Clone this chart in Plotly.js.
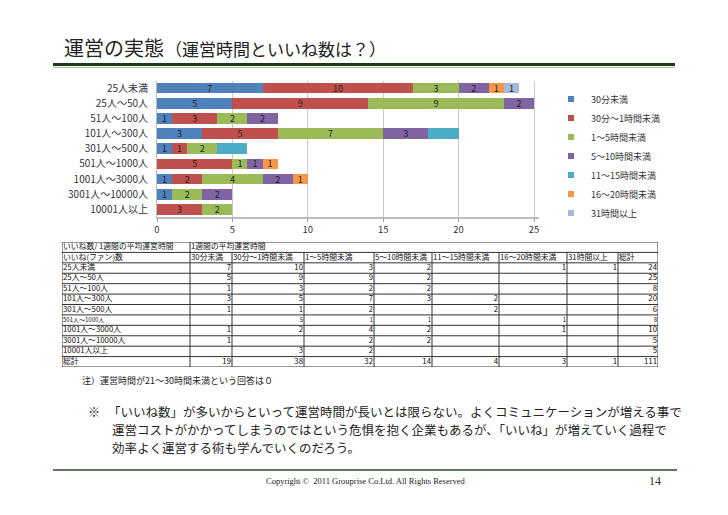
<!DOCTYPE html>
<html><head><meta charset="utf-8">
<script src="https://cdn.plot.ly/plotly-3.0.1.min.js"></script>
<style>html,body{margin:0;padding:0;background:#fff}</style>
</head><body><div id="chart" style="width:728px;height:515px"></div>
<script>
// ---- data ----
const fanGroups = ['25人未満','25人～50人','51人～100人','101人～300人','301人～500人','501人～1000人','1001人～3000人','3001人～10000人','10001人以上'];
const hourBands = ['30分未満','30分～1時間未満','1～5時間未満','5～10時間未満','11～15時間未満','16～20時間未満','31時間以上'];
const under30min = [7,5,1,3,1,null,1,1,null];
const min30to1h  = [10,9,3,5,1,5,2,null,3];
const h1to5      = [3,9,2,7,2,1,4,2,2];
const h5to10     = [2,2,2,3,null,1,2,2,null];
const h11to15    = [null,null,null,2,2,null,null,null,null];
const h16to20    = [1,null,null,null,null,1,1,null,null];
const h31plus    = [1,null,null,null,null,null,null,null,null];
const xTicks = [0,5,10,15,20,25];
const tableCorner = 'いいね数/ 1週間の平均運営時間';
const tableSpan = '1週間の平均運営時間';
const tableRowHead = 'いいね(ファン)数';
const totalLabel = '総計';

const series = [under30min, min30to1h, h1to5, h5to10, h11to15, h16to20, h31plus];
const colors = ['#4F81BD','#C0504D','#9BBB59','#8064A2','#4BACC6','#F79646','#A7B9DA'];

const W = 728, H = 515;
const px = x => x / W, py = y => 1 - y / H;
const JP = '"Noto Sans CJK JP", "Noto Sans", sans-serif';

// ---- stacked bars ----
const traces = series.map((s, i) => ({
  type: 'bar', orientation: 'h', name: hourBands[i], showlegend: false,
  y: fanGroups, x: s,
  marker: {color: colors[i], line: {width: 0}},
  text: s.map(v => (v == null || i === 4) ? '' : String(v)),
  textposition: 'inside', insidetextanchor: 'middle', constraintext: 'none', textangle: 0,
  textfont: {family: JP, size: 9, color: '#222'},
  hoverinfo: 'skip', xaxis: 'x', yaxis: 'y'
}));
// legend entries with small square symbols
series.forEach((s, i) => traces.push({
  type: 'scatter', mode: 'markers', name: hourBands[i], x: [null], y: [null],
  marker: {symbol: 'square', size: 6, color: colors[i]},
  xaxis: 'x', yaxis: 'y', hoverinfo: 'skip'
}));

// ---- table ----
const rowTotals = fanGroups.map((_, r) => series.reduce((a, s) => a + (s[r] || 0), 0));
const colTotals = series.map(s => s.reduce((a, v) => a + (v || 0), 0));
const grand = colTotals.reduce((a, b) => a + b, 0);
const fmt = v => (v == null || v === 0) ? '' : String(v);

const colW = [128,42,72,70,58,67,68,51,40];
const edges = [0]; colW.forEach(w => edges.push(edges[edges.length - 1] + w));
const nRows = 12;
const tFont = 7.8;
const bodyLabels = fanGroups.concat([totalLabel]);
const bodyY = bodyLabels.map((_, r) => r + 2.5);
const bodyFont = bodyLabels.map(g => g === '501人～1000人' ? 6 : tFont);
const numCols = series.map((s, i) => s.map(fmt).concat([fmt(colTotals[i])]));
numCols.push(rowTotals.map(fmt).concat([fmt(grand)]));

const tTxt = (x, y, text, pos, size) => ({
  type: 'scatter', mode: 'text', x, y, text, textposition: pos,
  textfont: {family: JP, size: size, color: '#111'}, cliponaxis: false,
  showlegend: false, hoverinfo: 'skip', xaxis: 'x2', yaxis: 'y2'
});
traces.push(tTxt([edges[0] + 1, edges[1] + 1], [0.5, 0.5], [tableCorner, tableSpan], 'middle right', tFont));
traces.push(tTxt(edges.slice(0, 9).map(e => e + 1), edges.slice(0, 9).map(() => 1.5),
                 [tableRowHead].concat(hourBands, [totalLabel]), 'middle right', tFont));
traces.push(tTxt(bodyY.map(() => edges[0] + 1), bodyY, bodyLabels, 'middle right', bodyFont));
numCols.forEach((col, c) => traces.push(tTxt(bodyY.map(() => edges[c + 2] - 1), bodyY, col, 'middle left', bodyFont)));

const shapes = [
  {type: 'line', xref: 'paper', yref: 'paper', x0: px(53), x1: px(675), y0: py(64.5), y1: py(64.5), line: {color: '#1B3A17', width: 3}},
  {type: 'line', xref: 'paper', yref: 'paper', x0: px(53), x1: px(675), y0: py(67.5), y1: py(67.5), line: {color: '#A9C79B', width: 1}},
  {type: 'line', xref: 'paper', yref: 'paper', x0: px(53), x1: px(677), y0: py(470), y1: py(470), line: {color: '#2E4A2A', width: 1.5}}
];
for (let r = 0; r <= nRows; r++) {
  shapes.push({type: 'line', xref: 'x2', yref: 'y2', x0: 0, x1: edges[edges.length - 1], y0: r, y1: r, line: {color: '#333', width: 1}});
}
edges.forEach((e, k) => {
  const full = (k === 0 || k === 1 || k === edges.length - 1);
  shapes.push({type: 'line', xref: 'x2', yref: 'y2', x0: e, x1: e, y0: full ? 0 : 1, y1: nRows, line: {color: '#333', width: 1}});
});

const layout = {
  width: W, height: H,
  margin: {l: 0, r: 0, t: 0, b: 0},
  paper_bgcolor: '#fff', plot_bgcolor: '#fff',
  barmode: 'stack', bargap: 0.3,
  showlegend: true,
  legend: {x: px(551), y: py(156), xanchor: 'left', yanchor: 'middle',
           traceorder: 'normal', font: {family: JP, size: 9, color: '#333'},
           bgcolor: 'rgba(0,0,0,0)'},
  xaxis: {domain: [px(157), px(157 + 25.3 * 15.08)], range: [0, 25.3],
          tickvals: xTicks, ticktext: xTicks.map(String),
          showgrid: true, gridcolor: '#c8c8c8', gridwidth: 1,
          zeroline: false, showline: true, linecolor: '#bdbdbd', linewidth: 2,
          ticks: 'outside', ticklen: 3, tickcolor: '#999',
          tickfont: {family: JP, size: 9.5, color: '#333'}, fixedrange: true,
          anchor: 'y'},
  yaxis: {domain: [py(217), py(80.5)], range: [8.5, -0.5], type: 'category',
          showline: true, linecolor: '#bdbdbd', linewidth: 1, showgrid: false,
          ticks: '', ticklabelstandoff: 6,
          tickfont: {family: JP, size: 10, color: '#333'}, fixedrange: true,
          anchor: 'x'},
  xaxis2: {domain: [px(62), px(658)], range: [0, edges[edges.length - 1]], visible: false, fixedrange: true, anchor: 'y2'},
  yaxis2: {domain: [py(367), py(242)], range: [nRows, 0], visible: false, fixedrange: true, anchor: 'x2'},
  shapes: shapes,
  annotations: [
    {text: '運営の実態', xref: 'paper', yref: 'paper', x: px(62), y: py(47), xanchor: 'left', yanchor: 'middle', showarrow: false, font: {family: JP, size: 20, color: '#222'}},
    {text: '（運営時間といいね数は？）', xref: 'paper', yref: 'paper', x: px(163), y: py(48), xanchor: 'left', yanchor: 'middle', showarrow: false, font: {family: JP, size: 17, color: '#222'}},
    {text: '注）運営時間が21～30時間未満という回答は０', xref: 'paper', yref: 'paper', x: px(80), y: py(380), xanchor: 'left', yanchor: 'middle', showarrow: false, font: {family: JP, size: 9, color: '#222'}},
    {text: '※', xref: 'paper', yref: 'paper', x: px(86), y: py(411), xanchor: 'left', yanchor: 'middle', showarrow: false, font: {family: JP, size: 12, color: '#222'}},
    {text: '「いいね数」が多いからといって運営時間が長いとは限らない。よくコミュニケーションが増える事で', xref: 'paper', yref: 'paper', x: px(106), y: py(411), xanchor: 'left', yanchor: 'middle', showarrow: false, font: {family: JP, size: 12.5, color: '#222'}},
    {text: '運営コストがかかってしまうのではという危惧を抱く企業もあるが、「いいね」が増えていく過程で', xref: 'paper', yref: 'paper', x: px(110), y: py(429), xanchor: 'left', yanchor: 'middle', showarrow: false, font: {family: JP, size: 12.5, color: '#222'}},
    {text: '効率よく運営する術も学んでいくのだろう。', xref: 'paper', yref: 'paper', x: px(110), y: py(447), xanchor: 'left', yanchor: 'middle', showarrow: false, font: {family: JP, size: 12.5, color: '#222'}},
    {text: 'Copyright ©  2011 Grouprise Co.Ltd. All Rights Reserved', xref: 'paper', yref: 'paper', x: px(366), y: py(481), xanchor: 'center', yanchor: 'middle', showarrow: false, font: {family: '"Liberation Serif", serif', size: 8.5, color: '#222'}},
    {text: '14', xref: 'paper', yref: 'paper', x: px(655), y: py(481), xanchor: 'center', yanchor: 'middle', showarrow: false, font: {family: '"Liberation Serif", serif', size: 12, color: '#333'}}
  ]
};

Plotly.newPlot('chart', traces, layout, {displayModeBar: false, staticPlot: true});
</script></body></html>
